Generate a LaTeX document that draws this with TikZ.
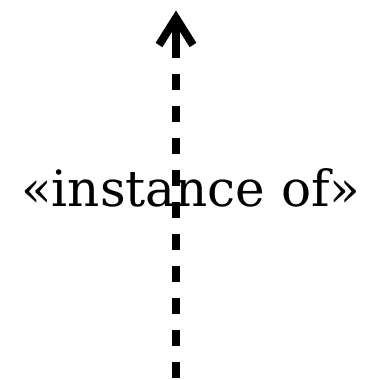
\documentclass[tikz,border=0pt]{standalone}
\usepackage{fontspec}
\newfontfamily\labelfont{DejaVu Serif}
\usetikzlibrary{arrows.meta, positioning}

\begin{document}
\begin{tikzpicture}[
    x=1pt, y=1pt,
    stereo/.style={inner sep=0pt, anchor=base, font=\labelfont\fontsize{50}{50}\selectfont},
    depend/.style={line width=8pt, dash pattern=on 16pt off 16pt},
    shaft/.style={line width=8pt},
    head/.style={line width=8pt, line join=miter, line cap=butt}
]
\useasboundingbox (0,0) rectangle (375,380);

% Ends of the dependency
\coordinate (foot) at (176,2);
\coordinate (neck) at (176,338);
\coordinate (tip) at (176,362);
\coordinate (wingl) at (159,335);
\coordinate (wingr) at (193,335);

% Label
\node[stereo] (label) at (191,173) {«instance of»};

% Arrow
\draw[depend] (foot) -- (neck);
\draw[shaft] (neck) -- (tip);
\draw[head] (wingl) -- (tip) -- (wingr);

\end{tikzpicture}
\end{document}
